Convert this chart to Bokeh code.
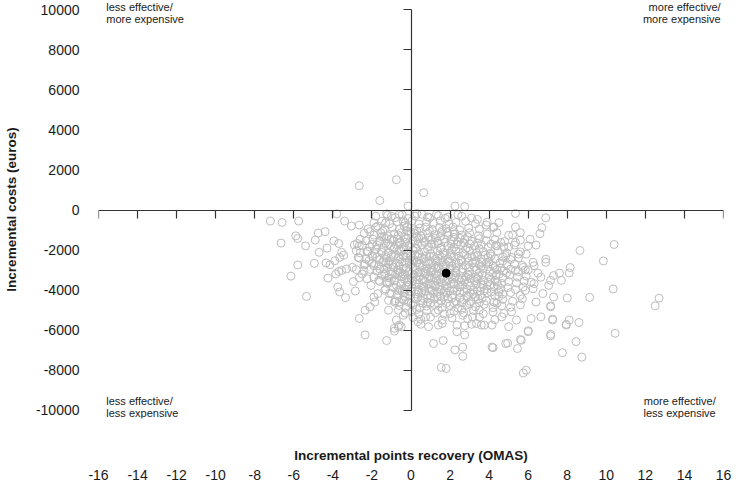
from bokeh.plotting import figure
from bokeh.models import (LinearAxis, FixedTicker, Label, ColumnDataSource, Range1d,
                          CustomLabelingPolicy)
from bokeh.embed import file_html
from bokeh.resources import INLINE

# ---------------- data (incremental effect in OMAS points, incremental cost in euros) -------------
x_ticks = [-16, -14, -12, -10, -8, -6, -4, -2, 0, 2, 4, 6, 8, 10, 12, 14, 16]
y_ticks = [-10000, -8000, -6000, -4000, -2000, 0, 2000, 4000, 6000, 8000, 10000]

mean_effect = [1.8]
mean_cost = [-3150]

upper_points = [(-2.65, 1210), (-0.75, 1510), (0.65, 860), (-1.6, 470), (-0.15, 200), (2.25, 200), (2.75, 170)]

left_points = [
    (-7.2, -550), (-6.6, -620), (-5.75, -550), (-3.8, -190), (-3.4, -550), (-3.05, -800), (-2.65, -750),
    (-5.9, -1290), (-5.8, -1420), (-6.65, -1650), (-5.4, -1790), (-4.75, -1150), (-4.4, -1080), (-4.9, -1500),
    (-3.95, -1540), (-3.7, -1670), (-4.3, -1900), (-4.7, -2110), (-3.55, -2110), (-3.45, -2250), (-3.65, -2360),
    (-3.9, -2530), (-4.15, -2730), (-4.35, -2640), (-4.95, -2660), (-5.8, -2740), (-6.15, -3300), (-5.35, -4310),
    (-4.25, -3400), (-3.85, -3190), (-3.7, -3070), (-3.55, -3020), (-3.3, -2940), (-3.0, -2860), (-2.8, -2970),
    (-3.75, -3840), (-3.65, -4090), (-3.35, -4370), (-2.85, -4040), (-2.95, -3570), (-2.65, -3380), (-2.4, -3020),
    (-2.35, -5000), (-2.65, -5410), (-2.1, -4830), (-1.7, -4170), (-2.05, -3760), (-1.9, -4340), (-1.85, -4590),
    (-2.9, -1740), (-2.75, -1670), (-2.65, -1790), (-2.6, -1460), (-2.8, -2040), (-2.65, -2400), (-2.25, -2070),
    (-2.1, -1080), (-2.0, -1700), (-1.8, -310), (-1.7, -800), (-1.45, -1050), (-1.4, -1340), (-1.6, -1540),
    (-1.3, -630), (-1.25, -190), (-1.0, -310), (-0.6, -220), (-0.4, -550), (-0.35, -800), (-0.2, -1050),
    (-0.65, -1250), (-1.0, -1460), (-1.15, -1700), (-0.85, -1870), (-0.6, -2040), (-0.4, -2280), (-1.5, -2110),
    (-1.75, -2360), (-1.4, -2530), (-1.15, -2690), (-0.9, -2860), (-0.65, -3020), (-0.4, -3190), (-1.0, -3190),
    (-1.35, -3190), (-1.6, -2940), (-1.9, -2780), (-2.15, -2530), (-2.35, -2690), (-2.5, -3190), (-2.25, -3430),
    (-1.65, -3510), (-1.25, -3600), (-0.85, -3510), (-0.5, -3680), (-0.35, -3930), (-0.65, -4010), (-1.0, -4170),
    (-1.35, -4010), (-1.15, -4510), (-0.85, -4590), (-0.6, -4590), (-0.35, -4510), (-1.15, -5000), (-0.65, -5000),
    (-0.4, -5250), (-0.75, -5490), (-0.6, -5740), (-0.85, -5900), (-2.35, -6230), (-1.25, -6510), (-0.85, -6040),
    (-0.65, -5820), (-0.5, -5820),
]

right_points = [
    (0.3, -170), (0.85, -350), (1.3, -220), (1.75, -420), (2.6, -310), (3.4, -470), (5.35, -170), (6.9, -390),
    (3.85, -750), (4.25, -850), (4.5, -630), (5.0, -1260), (5.35, -850), (5.6, -1130), (6.1, -1460), (6.6, -1180),
    (6.7, -880), (6.4, -1750), (6.0, -1790), (5.35, -1620), (5.0, -1840), (4.6, -1620), (4.4, -1790), (4.1, -1700),
    (5.5, -2200), (5.9, -2200), (5.15, -2360), (4.85, -2280), (6.25, -2610), (6.3, -2780), (6.9, -2450),
    (6.9, -2610), (5.75, -2860), (5.85, -2990), (5.35, -3020), (6.5, -3150), (6.65, -3350), (7.15, -3510),
    (7.3, -3270), (7.6, -3150), (7.7, -3510), (7.05, -3760), (6.15, -3600), (6.25, -3930), (5.85, -4010),
    (7.3, -4340), (6.75, -4170), (6.4, -4590), (7.15, -4830), (6.65, -5330), (7.25, -5490), (6.15, -5410),
    (6.0, -6020), (5.0, -5820), (4.15, -5740), (3.75, -5740), (3.35, -5660), (2.35, -5740), (1.4, -5740),
    (1.6, -5660), (0.9, -5820), (0.35, -5570), (0.75, -5330), (2.0, -5160), (2.65, -5250), (3.15, -5330),
    (4.65, -5330), (5.15, -5080), (5.4, -5490),
    (8.65, -2020), (10.4, -1720), (9.85, -2540), (8.15, -2870), (8.1, -3140), (10.35, -3940), (9.15, -4360),
    (8.0, -4390), (12.7, -4400), (12.5, -4780), (8.1, -5490), (8.6, -5610), (10.45, -6150),
]

lower_points = [
    (1.15, -6660), (1.65, -6510), (2.25, -6980), (2.65, -6840), (2.65, -7300), (1.55, -7850), (1.8, -7900),
    (2.75, -6230), (2.35, -6070), (4.15, -6840), (4.2, -6870), (4.85, -6660), (4.95, -6640), (5.45, -6910),
    (5.6, -6460), (5.65, -6500), (6.0, -6070), (7.15, -6200), (7.15, -6280), (7.75, -7120), (8.45, -6560),
    (8.75, -7340), (5.75, -8130), (5.9, -7990), (7.95, -5740), (3.6, -5740), (3.1, -5700), (2.75, -5770),
    (0.5, -5700), (7.25, -5440), (7.95, -5700), (7.15, -4780),
]

core_points = [
    (-1.2, -260), (-0.8, -380), (-0.45, -240), (-0.15, -420), (0.2, -300), (0.55, -210), (0.95, -390), (1.4, -280),
    (1.9, -350), (2.4, -230), (3.1, -400),
    (-1.9, -640), (-1.5, -560), (-1.1, -690), (-0.7, -580), (-0.3, -650), (0.05, -540), (0.4, -700), (0.8, -600),
    (1.15, -660), (1.5, -550), (1.95, -700), (2.3, -620), (2.8, -570), (3.3, -680), (3.9, -610),
    (-2.2, -940), (-1.8, -860), (-1.35, -980), (-0.95, -880), (-0.6, -960), (-0.2, -840), (0.15, -990), (0.45, -900),
    (0.75, -850), (1.1, -970), (1.45, -870), (1.8, -930), (2.15, -850), (2.5, -990), (2.95, -900), (3.5, -950),
    (4.2, -870),
    (-2.4, -1160), (-1.9, -1250), (-1.55, -1140), (-1.2, -1280), (-0.85, -1190), (-0.5, -1130), (-0.15, -1260),
    (0.2, -1170), (0.5, -1290), (0.85, -1150), (1.2, -1230), (1.55, -1120), (1.9, -1270), (2.25, -1190),
    (2.6, -1250), (3.0, -1140), (3.45, -1280), (3.9, -1200), (4.4, -1130), (5.2, -1240),
    (-2.3, -1540), (-1.95, -1460), (-1.6, -1580), (-1.25, -1430), (-0.9, -1520), (-0.55, -1590), (-0.25, -1450),
    (0.1, -1530), (0.4, -1420), (0.7, -1570), (1.05, -1480), (1.35, -1560), (1.7, -1440), (2.05, -1530),
    (2.4, -1590), (2.75, -1460), (3.1, -1550), (3.5, -1430), (3.85, -1520), (4.3, -1470), (4.8, -1570),
    (5.6, -1500),
    (-2.5, -1760), (-2.1, -1850), (-1.75, -1740), (-1.4, -1880), (-1.05, -1790), (-0.75, -1720), (-0.4, -1860),
    (-0.1, -1770), (0.25, -1890), (0.55, -1740), (0.9, -1830), (1.2, -1710), (1.55, -1870), (1.9, -1780),
    (2.2, -1850), (2.55, -1730), (2.9, -1880), (3.25, -1800), (3.6, -1720), (3.95, -1860), (4.35, -1770),
    (4.75, -1840), (5.3, -1750),
    (-2.6, -2140), (-2.2, -2060), (-1.85, -2180), (-1.5, -2030), (-1.15, -2120), (-0.8, -2190), (-0.5, -2050),
    (-0.2, -2130), (0.1, -2020), (0.4, -2170), (0.7, -2080), (1.0, -2160), (1.35, -2040), (1.65, -2130),
    (2.0, -2190), (2.3, -2060), (2.65, -2150), (3.0, -2030), (3.35, -2120), (3.7, -2070), (4.05, -2170),
    (4.45, -2040), (4.9, -2140), (5.6, -2090),
    (-2.7, -2360), (-2.3, -2450), (-1.95, -2340), (-1.6, -2480), (-1.25, -2390), (-0.9, -2320), (-0.55, -2460),
    (-0.25, -2370), (0.05, -2490), (0.35, -2340), (0.65, -2430), (0.95, -2310), (1.25, -2470), (1.6, -2380),
    (1.9, -2450), (2.2, -2330), (2.55, -2480), (2.9, -2400), (3.25, -2320), (3.6, -2460), (3.95, -2370),
    (4.3, -2440), (4.7, -2350), (5.1, -2470), (5.5, -2390),
    (-2.4, -2740), (-2.0, -2660), (-1.65, -2780), (-1.3, -2630), (-0.95, -2720), (-0.6, -2790), (-0.3, -2650),
    (0.0, -2730), (0.3, -2620), (0.6, -2770), (0.9, -2680), (1.2, -2760), (1.5, -2640), (1.8, -2730),
    (2.1, -2790), (2.45, -2660), (2.8, -2750), (3.15, -2630), (3.5, -2720), (3.85, -2670), (4.2, -2770),
    (4.55, -2640), (4.9, -2740), (5.3, -2690), (5.7, -2760),
    (-2.1, -2960), (-1.75, -3050), (-1.4, -2940), (-1.05, -3080), (-0.7, -2990), (-0.4, -2920), (-0.1, -3060),
    (0.2, -2970), (0.5, -3090), (0.8, -2940), (1.1, -3030), (1.4, -2910), (1.7, -3070), (2.0, -2980),
    (2.3, -3050), (2.65, -2930), (3.0, -3080), (3.35, -3000), (3.7, -2920), (4.05, -3060), (4.4, -2970),
    (4.75, -3040), (5.1, -2950), (5.5, -3070), (6.0, -2990),
    (-1.9, -3340), (-1.5, -3260), (-1.15, -3380), (-0.8, -3230), (-0.45, -3320), (-0.15, -3390), (0.15, -3250),
    (0.45, -3330), (0.75, -3220), (1.05, -3370), (1.35, -3280), (1.65, -3360), (1.95, -3240), (2.25, -3330),
    (2.6, -3390), (2.95, -3260), (3.3, -3350), (3.65, -3230), (4.0, -3320), (4.35, -3270), (4.7, -3370),
    (5.05, -3240), (5.45, -3340), (5.9, -3290),
    (-1.6, -3560), (-1.2, -3650), (-0.85, -3540), (-0.5, -3680), (-0.2, -3590), (0.1, -3520), (0.4, -3660),
    (0.7, -3570), (1.0, -3690), (1.3, -3540), (1.6, -3630), (1.9, -3510), (2.2, -3670), (2.55, -3580),
    (2.9, -3650), (3.25, -3530), (3.6, -3680), (3.95, -3600), (4.3, -3520), (4.65, -3660), (5.0, -3570),
    (5.4, -3640), (5.8, -3550), (6.3, -3670),
    (-1.3, -3940), (-0.9, -3860), (-0.55, -3980), (-0.25, -3830), (0.05, -3920), (0.35, -3990), (0.65, -3850),
    (0.95, -3930), (1.25, -3820), (1.55, -3970), (1.85, -3880), (2.2, -3960), (2.5, -3840), (2.85, -3930),
    (3.2, -3990), (3.55, -3860), (3.9, -3950), (4.25, -3830), (4.6, -3920), (4.95, -3870), (5.35, -3970),
    (5.75, -3840),
    (-1.1, -4160), (-0.7, -4250), (-0.35, -4140), (-0.05, -4280), (0.25, -4190), (0.55, -4120), (0.85, -4260),
    (1.15, -4170), (1.5, -4290), (1.8, -4140), (2.15, -4230), (2.5, -4110), (2.85, -4270), (3.2, -4180),
    (3.55, -4250), (3.9, -4130), (4.3, -4280), (4.7, -4200), (5.1, -4120), (5.6, -4260),
    (-0.8, -4540), (-0.45, -4460), (-0.15, -4580), (0.2, -4430), (0.5, -4520), (0.85, -4590), (1.2, -4450),
    (1.55, -4530), (1.9, -4420), (2.3, -4570), (2.7, -4480), (3.05, -4560), (3.45, -4440), (3.85, -4530),
    (4.25, -4590), (4.7, -4460), (5.2, -4550), (5.7, -4430),
    (-0.6, -4760), (-0.25, -4850), (0.1, -4740), (0.45, -4880), (0.8, -4790), (1.2, -4720), (1.6, -4860),
    (2.0, -4770), (2.4, -4890), (2.85, -4740), (3.3, -4830), (3.75, -4710), (4.2, -4870), (4.65, -4780),
    (5.1, -4850), (5.6, -4730),
    (-0.3, -5140), (0.05, -5060), (0.4, -5180), (0.8, -5030), (1.25, -5120), (1.7, -5190), (2.2, -5050),
    (2.7, -5130), (3.2, -5020), (3.7, -5170), (4.2, -5080), (4.75, -5160),
    (0.1, -5360), (0.5, -5450), (1.0, -5340), (1.6, -5480), (2.1, -5390), (2.9, -5430), (3.5, -5350),
    (4.3, -5470),
]

dense_points = [
    (0.3, -1050), (0.95, -1060), (1.6, -1020), (2.2, -1080),
    (-0.35, -1350), (0.3, -1330), (0.9, -1380), (1.5, -1320), (2.2, -1360), (2.9, -1340),
    (-0.6, -1650), (0.0, -1680), (0.7, -1620), (1.4, -1660), (2.05, -1690), (2.7, -1640), (3.4, -1650),
    (-0.9, -1950), (-0.35, -1980), (0.25, -1940), (0.85, -1970), (1.5, -1920), (2.1, -1990), (2.8, -1950),
    (3.5, -1930),
    (-1.0, -2250), (-0.4, -2270), (0.2, -2230), (0.8, -2290), (1.45, -2240), (2.05, -2280), (2.75, -2220),
    (3.4, -2260), (4.1, -2290),
    (-1.1, -2550), (-0.45, -2580), (0.15, -2530), (0.75, -2570), (1.35, -2540), (1.95, -2590), (2.6, -2520),
    (3.3, -2560), (4.0, -2590), (4.7, -2540),
    (-0.9, -2850), (-0.25, -2880), (0.45, -2840), (1.05, -2890), (1.65, -2830), (2.3, -2870), (2.95, -2860),
    (3.6, -2820), (4.3, -2880),
    (-0.6, -3150), (0.05, -3180), (0.65, -3130), (1.25, -3170), (2.3, -3140), (2.9, -3190), (3.5, -3120),
    (4.2, -3160), (4.9, -3140),
    (-0.35, -3450), (0.3, -3480), (0.9, -3420), (1.5, -3470), (2.1, -3440), (2.75, -3490), (3.4, -3430),
    (4.1, -3460),
    (-0.1, -3760), (0.55, -3790), (1.15, -3740), (1.75, -3780), (2.4, -3750), (3.05, -3790), (3.7, -3740),
    (4.45, -3770),
    (0.0, -4060), (0.7, -4040), (1.35, -4080), (2.0, -4030), (2.7, -4070), (3.4, -4050), (4.1, -4090),
    (0.35, -4350), (1.0, -4370), (1.7, -4330), (2.5, -4380), (3.3, -4340),
    (0.6, -4650), (1.4, -4680), (2.2, -4630), (3.0, -4670),
]

centre_points = [
    (0.0, -1100), (0.6, -1420), (1.25, -1400), (1.85, -1120), (2.5, -1410), (-0.7, -1440), (-1.5, -1330),
    (-1.3, -1650), (-0.3, -1620), (0.35, -1700), (1.05, -1690), (1.75, -1610), (2.35, -1700), (3.0, -1690),
    (-1.8, -1950),
    (-1.3, -2270), (-0.65, -2350), (0.0, -2300), (0.55, -2380), (1.15, -2310), (1.75, -2260), (2.45, -2300),
    (3.1, -2330), (3.8, -2250), (-2.0, -2280),
    (-0.75, -2640), (-0.1, -2600), (0.45, -2660), (1.05, -2610), (1.65, -2580), (2.3, -2620), (2.95, -2560),
    (3.65, -2620), (-1.45, -2610),
    (-1.2, -2880), (-0.55, -3100), (0.1, -2850), (0.75, -3060), (1.35, -2830), (2.0, -2890), (2.6, -3120),
    (3.25, -2850), (3.95, -2830), (4.6, -2900),
    (-1.3, -3130), (-0.3, -3260), (0.35, -3120), (0.95, -3280), (1.55, -3120), (2.15, -3230), (2.8, -3330),
    (3.45, -3290), (4.5, -3200), (1.0, -3100),
    (-1.0, -3420), (0.0, -3400), (0.6, -3500), (1.2, -3410), (1.8, -3560), (2.45, -3460), (3.05, -3410),
    (3.7, -3520), (4.4, -3590),
    (-0.75, -3760), (0.25, -3700), (0.85, -3720), (1.45, -3810), (2.05, -3700), (2.65, -3760), (3.35, -3720),
    (4.05, -3730), (-1.1, -3620),
    (-0.45, -4060), (0.4, -4100), (1.05, -4000), (1.7, -4060), (2.35, -4020), (3.05, -4120), (3.75, -4020),
    (4.5, -4080),
    (-0.3, -4320), (0.65, -4410), (1.35, -4330), (2.1, -4380), (2.9, -4330), (3.65, -4400), (4.5, -4320),
    (0.0, -4660), (1.0, -4640), (1.8, -4660), (2.6, -4620), (3.5, -4640), (4.4, -4650), (0.3, -4960),
    (1.4, -4990), (2.6, -4960), (3.5, -4990),
]

quadrant_texts = ["less effective/\nmore expensive", "more effective/\nmore expensive",
                  "less effective/\nless expensive", "more effective/\nless expensive"]
x_title = "Incremental points recovery (OMAS)"
y_title = "Incremental costs (euros)"

# ---------------- figure ----------------
all_pts = (upper_points + left_points + right_points + lower_points + core_points + dense_points
           + centre_points)
src = ColumnDataSource(data=dict(effect=[q[0] for q in all_pts], cost=[q[1] for q in all_pts]))

FONT = "Liberation Sans"
INK = "#1a1a1a"
AXIS = "#333333"

p = figure(width=733, height=484, x_range=Range1d(-16, 16), y_range=Range1d(-10400, 10450),
           output_backend="svg", toolbar_location=None, x_axis_location=None, y_axis_location=None,
           min_border_left=92, min_border_right=10, min_border_top=0, min_border_bottom=66)
p.outline_line_color = None
p.grid.visible = False

no_labels = CustomLabelingPolicy(code="for (const i of indices) { indices.unset(i) }\nreturn indices")

# centre cross (axes through the origin), ticks only
xc = LinearAxis(fixed_location=0, ticker=FixedTicker(ticks=x_ticks), bounds=(-16, 16),
                major_tick_out=8, major_tick_in=0, minor_tick_line_color=None,
                major_label_policy=no_labels,
                axis_line_color=AXIS, axis_line_width=1.2, major_tick_line_color=AXIS,
                major_tick_line_width=1.2)
yc = LinearAxis(fixed_location=0, ticker=FixedTicker(ticks=y_ticks), bounds=(-10000, 10000),
                major_tick_out=8, major_tick_in=0, minor_tick_line_color=None,
                major_label_policy=no_labels,
                axis_line_color=AXIS, axis_line_width=1.2, major_tick_line_color=AXIS,
                major_tick_line_width=1.2)

# outer labels (no line, no ticks)
yl = LinearAxis(ticker=FixedTicker(ticks=y_ticks), axis_line_color=None, major_tick_line_color=None,
                minor_tick_line_color=None, major_tick_out=0, major_tick_in=0, major_label_standoff=19,
                major_label_overrides={t: str(t) for t in y_ticks},
                major_label_text_font=FONT, major_label_text_font_size="14px", major_label_text_color=INK,
                axis_label=y_title, axis_label_text_font=FONT,
                axis_label_text_font_style="bold", axis_label_text_font_size="13.5px",
                axis_label_text_color=INK, axis_label_standoff=14)
xa = LinearAxis(ticker=FixedTicker(ticks=[]), axis_line_color=None, major_tick_line_color=None,
                minor_tick_line_color=None, major_tick_out=0, major_tick_in=0,
                axis_label=x_title, axis_label_text_font=FONT, axis_label_text_font_style="bold",
                axis_label_text_font_size="13.5px", axis_label_text_color=INK, axis_label_standoff=29)
xl = LinearAxis(ticker=FixedTicker(ticks=x_ticks), axis_line_color=None, major_tick_line_color=None,
                minor_tick_line_color=None, major_tick_out=0, major_tick_in=0, major_label_standoff=4,
                major_label_overrides={t: str(t) for t in x_ticks},
                major_label_text_font=FONT, major_label_text_font_size="14px", major_label_text_color=INK)

p.add_layout(yl, "left")
p.add_layout(yc, "left")
p.add_layout(xc, "below")
p.add_layout(xa, "below")
p.add_layout(xl, "below")

p.scatter("effect", "cost", source=src, marker="circle", size=8, fill_color=None,
          line_color="#bdbdbd", line_width=1)
p.scatter(mean_effect, mean_cost, marker="circle", size=8, fill_color="black", line_color="black")

lab_kw = dict(text_font=FONT, text_font_size="11px", text_color=INK, text_line_height=1.0)
p.add_layout(Label(x=-15.6, y=10450, text=quadrant_texts[0], text_align="left", text_baseline="top", **lab_kw))
p.add_layout(Label(x=15.85, y=10450, text=quadrant_texts[1], text_align="right", text_baseline="top", **lab_kw))
p.add_layout(Label(x=-15.6, y=-10400, text=quadrant_texts[2], text_align="left", text_baseline="bottom", **lab_kw))
p.add_layout(Label(x=15.6, y=-10400, text=quadrant_texts[3], text_align="right", text_baseline="bottom", **lab_kw))

open("out.html", "w").write(file_html(p, INLINE))
